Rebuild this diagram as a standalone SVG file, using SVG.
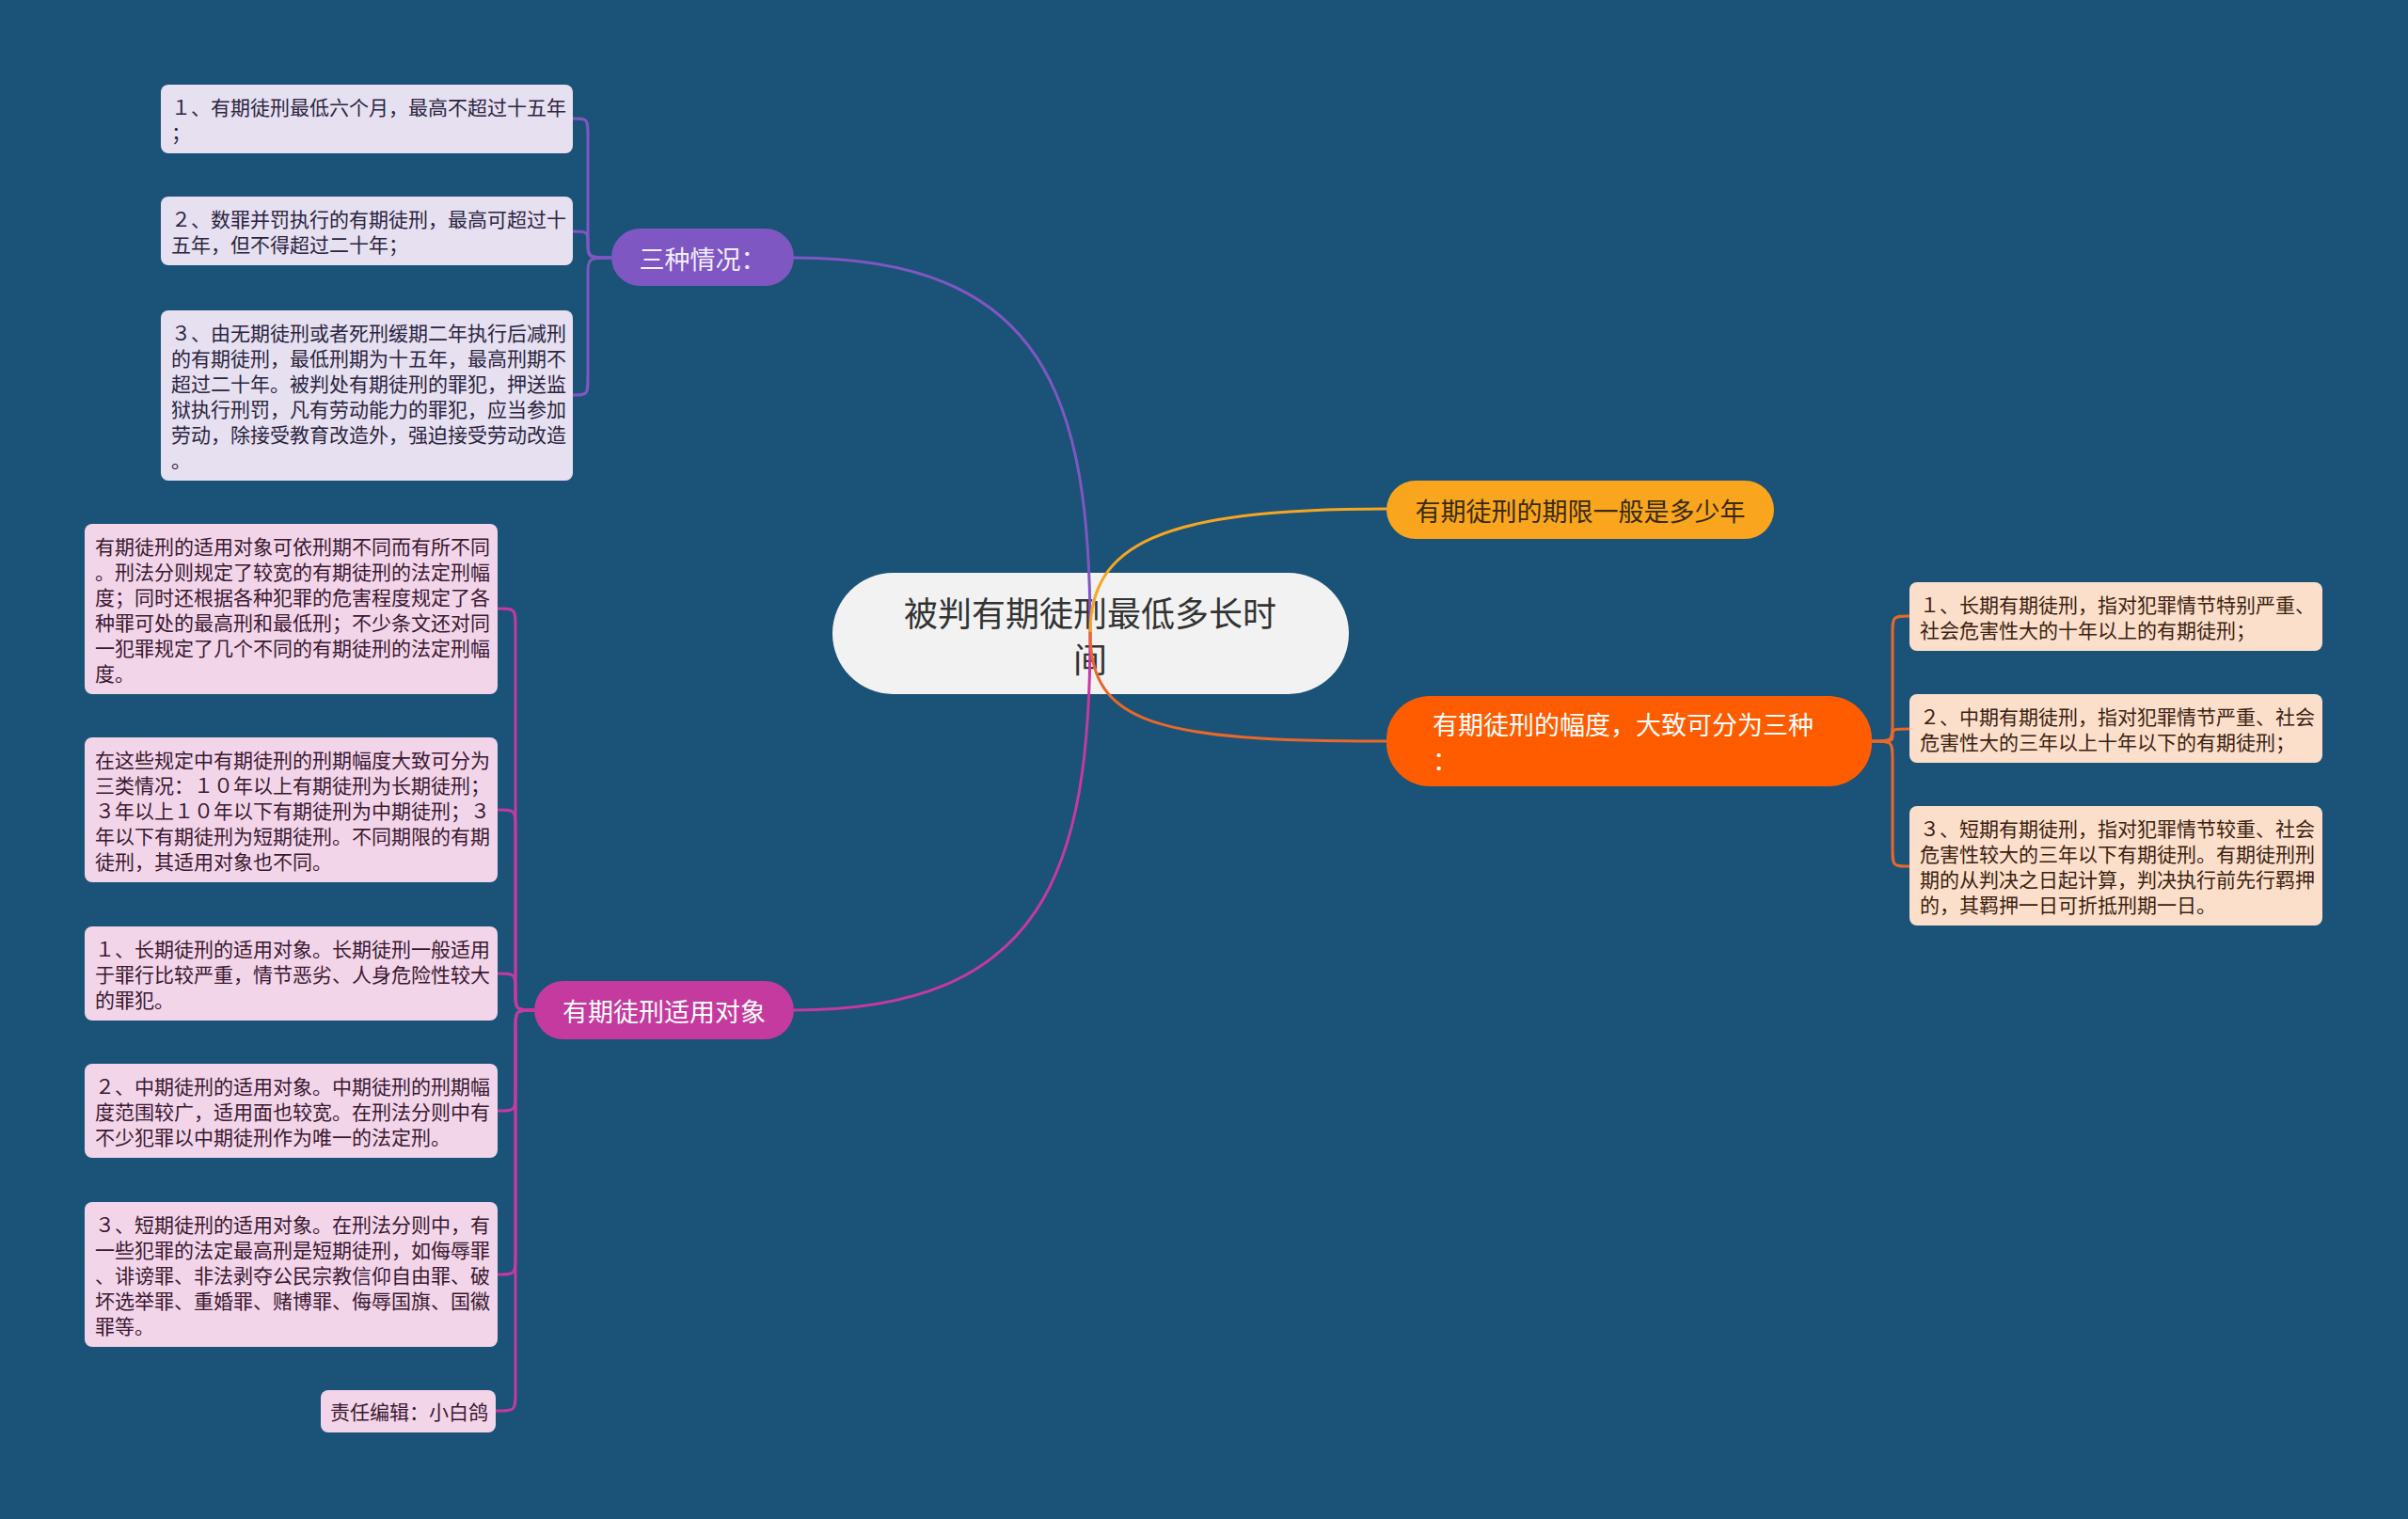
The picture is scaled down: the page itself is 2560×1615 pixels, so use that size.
<svg xmlns="http://www.w3.org/2000/svg" width="2560" height="1615" viewBox="0 0 2560 1615">
<style>
text{font-family:"Noto Sans CJK SC","Noto Sans",sans-serif;dominant-baseline:central}
.t{font-size:21px}
.tl rect{fill:#E6E0F1}
.tl text{fill:#2B2540}
.bl rect{fill:#F3D5EA}
.bl text{fill:#3A1830}
.rt rect{fill:#FCDFCB}
.rt text{fill:#3B2210}
.pill{font-size:27px}
.c{fill:none;stroke-width:3;stroke-linecap:round}
</style>
<rect width="2560" height="1615" fill="#1B5277"/>
<g id="root">
<rect x="885" y="609" width="549" height="129" rx="64.5" fill="#F2F2F2"/>
<text x="1159" y="650" font-size="36" text-anchor="middle" fill="#333333">被判有期徒刑最低多长时</text>
<text x="1159" y="699" font-size="36" text-anchor="middle" fill="#333333">间</text>
</g>
<g id="connectors">
<path class="c" stroke="#7E57C2" d="M1159 673 C1159 420 1110 274 844 274"/>
<path class="c" stroke="#C43A9E" d="M1159 673 C1159 926 1110 1074 844 1074"/>
<path class="c" stroke="#F5A623" d="M1159 673 C1159 580 1230 541 1474 541"/>
<path class="c" stroke="#E8682A" d="M1159 673 C1159 770 1230 788 1474 788"/>
<path class="c" stroke="#7E57C2" d="M650 274 C625 274 625 274 625 254 L625 146 C625 126 625 126 609 126"/>
<path class="c" stroke="#7E57C2" d="M650 274 C625 274 625 274 625 260 C625 246 625 246 609 246"/>
<path class="c" stroke="#7E57C2" d="M650 274 C625 274 625 274 625 294 L625 400 C625 420 625 420 609 420"/>
<path class="c" stroke="#C43A9E" d="M568 1074 C548 1074 548 1074 548 1054 L548 667 C548 647 548 647 529 647"/>
<path class="c" stroke="#C43A9E" d="M568 1074 C548 1074 548 1074 548 1054 L548 881 C548 861 548 861 529 861"/>
<path class="c" stroke="#C43A9E" d="M568 1074 C548 1074 548 1074 548 1055 C548 1035 548 1035 529 1035"/>
<path class="c" stroke="#C43A9E" d="M568 1074 C548 1074 548 1074 548 1094 L548 1161 C548 1181 548 1181 529 1181"/>
<path class="c" stroke="#C43A9E" d="M568 1074 C548 1074 548 1074 548 1094 L548 1335 C548 1355 548 1355 529 1355"/>
<path class="c" stroke="#C43A9E" d="M568 1074 C548 1074 548 1074 548 1094 L548 1480 C548 1500 548 1500 527 1500"/>
<path class="c" stroke="#E8682A" d="M1990 788 C2012 788 2012 788 2012 768 L2012 675 C2012 655 2012 655 2030 655"/>
<path class="c" stroke="#E8682A" d="M1990 788 C2012 788 2012 788 2012 782 C2012 775 2012 775 2030 775"/>
<path class="c" stroke="#E8682A" d="M1990 788 C2012 788 2012 788 2012 808 L2012 901 C2012 921 2012 921 2030 921"/>
</g>
<g id="n-sanzhong">
<rect x="650" y="243" width="194" height="61" rx="30.5" fill="#7E57C2"/>
<text class="pill" x="747" y="274" text-anchor="middle" fill="#F3EEFF">三种情况：</text>
</g>
<g id="n-qixian">
<rect x="1474" y="511" width="412" height="62" rx="31" fill="#F9A61E"/>
<text class="pill" x="1680" y="542" text-anchor="middle" fill="#3A2A10">有期徒刑的期限一般是多少年</text>
</g>
<g id="n-fudu">
<rect x="1474" y="740" width="516" height="96" rx="46" fill="#FF5C00"/>
<text class="pill" x="1523" y="769" fill="#FFFFFF">有期徒刑的幅度，大致可分为三种</text>
<text class="pill" x="1523" y="807" fill="#FFFFFF">：</text>
</g>
<g id="n-duixiang">
<rect x="568" y="1043" width="276" height="62" rx="31" fill="#C43A9E"/>
<text class="pill" x="706" y="1074" text-anchor="middle" fill="#FFFFFF">有期徒刑适用对象</text>
</g>
<g id="tl1" class="tl">
<rect x="171" y="90" width="438" height="73" rx="8"/>
<text class="t" x="182" y="113">１、有期徒刑最低六个月，最高不超过十五年</text>
<text class="t" x="182" y="140">；</text>
</g>
<g id="tl2" class="tl">
<rect x="171" y="209" width="438" height="73" rx="8"/>
<text class="t" x="182" y="232">２、数罪并罚执行的有期徒刑，最高可超过十</text>
<text class="t" x="182" y="259">五年，但不得超过二十年；</text>
</g>
<g id="tl3" class="tl">
<rect x="171" y="330" width="438" height="181" rx="8"/>
<text class="t" x="182" y="353">３、由无期徒刑或者死刑缓期二年执行后减刑</text>
<text class="t" x="182" y="380">的有期徒刑，最低刑期为十五年，最高刑期不</text>
<text class="t" x="182" y="407">超过二十年。被判处有期徒刑的罪犯，押送监</text>
<text class="t" x="182" y="434">狱执行刑罚，凡有劳动能力的罪犯，应当参加</text>
<text class="t" x="182" y="461">劳动，除接受教育改造外，强迫接受劳动改造</text>
<text class="t" x="182" y="488">。</text>
</g>
<g id="bl1" class="bl">
<rect x="90" y="557" width="439" height="181" rx="8"/>
<text class="t" x="101" y="580">有期徒刑的适用对象可依刑期不同而有所不同</text>
<text class="t" x="101" y="607">。刑法分则规定了较宽的有期徒刑的法定刑幅</text>
<text class="t" x="101" y="634">度；同时还根据各种犯罪的危害程度规定了各</text>
<text class="t" x="101" y="661">种罪可处的最高刑和最低刑；不少条文还对同</text>
<text class="t" x="101" y="688">一犯罪规定了几个不同的有期徒刑的法定刑幅</text>
<text class="t" x="101" y="715">度。</text>
</g>
<g id="bl2" class="bl">
<rect x="90" y="784" width="439" height="154" rx="8"/>
<text class="t" x="101" y="807">在这些规定中有期徒刑的刑期幅度大致可分为</text>
<text class="t" x="101" y="834">三类情况：１０年以上有期徒刑为长期徒刑；</text>
<text class="t" x="101" y="861">３年以上１０年以下有期徒刑为中期徒刑；３</text>
<text class="t" x="101" y="888">年以下有期徒刑为短期徒刑。不同期限的有期</text>
<text class="t" x="101" y="915">徒刑，其适用对象也不同。</text>
</g>
<g id="bl3" class="bl">
<rect x="90" y="985" width="439" height="100" rx="8"/>
<text class="t" x="101" y="1008">１、长期徒刑的适用对象。长期徒刑一般适用</text>
<text class="t" x="101" y="1035">于罪行比较严重，情节恶劣、人身危险性较大</text>
<text class="t" x="101" y="1062">的罪犯。</text>
</g>
<g id="bl4" class="bl">
<rect x="90" y="1131" width="439" height="100" rx="8"/>
<text class="t" x="101" y="1154">２、中期徒刑的适用对象。中期徒刑的刑期幅</text>
<text class="t" x="101" y="1181">度范围较广，适用面也较宽。在刑法分则中有</text>
<text class="t" x="101" y="1208">不少犯罪以中期徒刑作为唯一的法定刑。</text>
</g>
<g id="bl5" class="bl">
<rect x="90" y="1278" width="439" height="154" rx="8"/>
<text class="t" x="101" y="1301">３、短期徒刑的适用对象。在刑法分则中，有</text>
<text class="t" x="101" y="1328">一些犯罪的法定最高刑是短期徒刑，如侮辱罪</text>
<text class="t" x="101" y="1355">、诽谤罪、非法剥夺公民宗教信仰自由罪、破</text>
<text class="t" x="101" y="1382">坏选举罪、重婚罪、赌博罪、侮辱国旗、国徽</text>
<text class="t" x="101" y="1409">罪等。</text>
</g>
<g id="bl6" class="bl">
<rect x="341" y="1478" width="186" height="45" rx="8"/>
<text class="t" x="351" y="1500">责任编辑：小白鸽</text>
</g>
<g id="rt1" class="rt">
<rect x="2030" y="619" width="439" height="73" rx="8"/>
<text class="t" x="2041" y="642">１、长期有期徒刑，指对犯罪情节特别严重、</text>
<text class="t" x="2041" y="669">社会危害性大的十年以上的有期徒刑；</text>
</g>
<g id="rt2" class="rt">
<rect x="2030" y="738" width="439" height="73" rx="8"/>
<text class="t" x="2041" y="761">２、中期有期徒刑，指对犯罪情节严重、社会</text>
<text class="t" x="2041" y="788">危害性大的三年以上十年以下的有期徒刑；</text>
</g>
<g id="rt3" class="rt">
<rect x="2030" y="857" width="439" height="127" rx="8"/>
<text class="t" x="2041" y="880">３、短期有期徒刑，指对犯罪情节较重、社会</text>
<text class="t" x="2041" y="907">危害性较大的三年以下有期徒刑。有期徒刑刑</text>
<text class="t" x="2041" y="934">期的从判决之日起计算，判决执行前先行羁押</text>
<text class="t" x="2041" y="961">的，其羁押一日可折抵刑期一日。</text>
</g>
</svg>
